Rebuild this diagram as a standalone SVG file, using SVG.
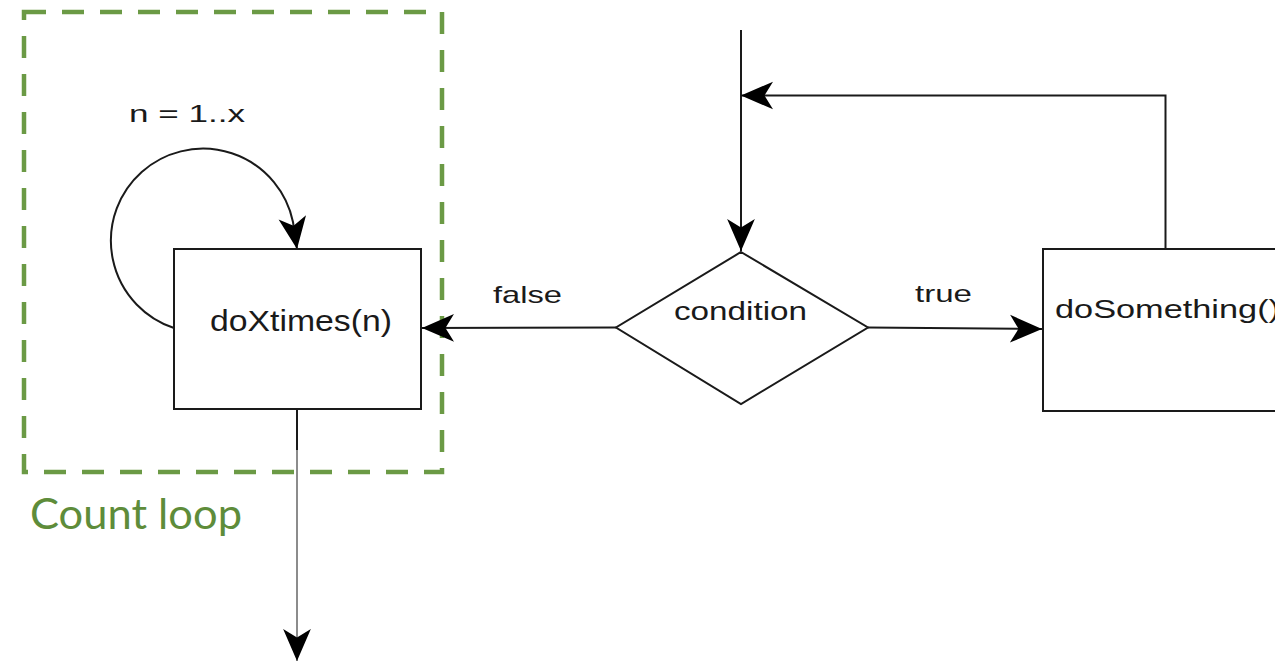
<svg xmlns="http://www.w3.org/2000/svg" width="1275" height="663" viewBox="0 0 1275 663">
  <style>
    .box { fill: #ffffff; stroke: #1a1a1a; stroke-width: 2; }
    .lbl { font-family: "Liberation Sans", Arial, sans-serif; fill: #1a1a1a; }
    .wire { fill: none; stroke: #1a1a1a; stroke-width: 2; }
    .group { fill: none; stroke: #6b9a45; stroke-width: 4.5; stroke-dasharray: 22 16; }
    .caption { font-family: Lato, "Open Sans", sans-serif; fill: #5e8c3a; }
  </style>
  <defs>
    <marker id="arrow" markerUnits="userSpaceOnUse" markerWidth="32" markerHeight="32"
            viewBox="0 0 30 28" refX="30" refY="14" orient="auto" overflow="visible">
      <path d="M0,1 L30,14 L0,27 L8,14 Z" fill="#000000"/>
    </marker>
  </defs>

  <rect width="1275" height="663" fill="#ffffff"/>

  <!-- count loop grouping frame -->
  <g id="count-loop">
    <rect class="group" x="24" y="12" width="418" height="460"/>
    <text class="caption" x="30" y="529" font-size="42" textLength="212" lengthAdjust="spacingAndGlyphs">Count loop</text>
  </g>

  <!-- connectors -->
  <g id="connectors">
    <!-- entry into the condition -->
    <line class="wire" x1="741" y1="30" x2="741" y2="251" marker-end="url(#arrow)"/>
    <!-- loop back from doSomething() -->
    <polyline class="wire" points="1165.5,249 1165.5,95.5 741,95.5" marker-end="url(#arrow)"/>
    <!-- true branch -->
    <line class="wire" x1="868" y1="327.5" x2="1042" y2="329" marker-end="url(#arrow)"/>
    <!-- false branch -->
    <line class="wire" x1="616" y1="327.5" x2="422" y2="328" marker-end="url(#arrow)"/>
    <!-- repetition loop on doXtimes(n) -->
    <path class="wire" d="M174,328 A92,92 0 1 1 293,222 L297,249" marker-end="url(#arrow)"/>
    <!-- exit -->
    <line class="wire" x1="297" y1="409" x2="297" y2="450"/>
    <line x1="297" y1="450" x2="297" y2="661" stroke="#8c8c8c" stroke-width="2" marker-end="url(#arrow)"/>
    <!-- edge labels -->
    <text class="lbl" x="493" y="303" font-size="24" textLength="69" lengthAdjust="spacingAndGlyphs">false</text>
    <text class="lbl" x="915" y="302" font-size="24" textLength="57" lengthAdjust="spacingAndGlyphs">true</text>
    <text class="lbl" x="129" y="122" font-size="24" textLength="116" lengthAdjust="spacingAndGlyphs">n = 1..x</text>
  </g>

  <g id="doXtimes">
    <rect class="box" x="174" y="249" width="247" height="160"/>
    <text class="lbl" x="210" y="331" font-size="30" textLength="182" lengthAdjust="spacingAndGlyphs">doXtimes(n)</text>
  </g>

  <g id="condition">
    <polygon class="box" points="741,252 868,327.5 741,404 616,327.5"/>
    <text class="lbl" x="674" y="320" font-size="25" textLength="133" lengthAdjust="spacingAndGlyphs">condition</text>
  </g>

  <g id="doSomething">
    <rect class="box" x="1043" y="249" width="246" height="162"/>
    <text class="lbl" x="1055" y="318" font-size="25" textLength="225" lengthAdjust="spacingAndGlyphs">doSomething()</text>
  </g>
</svg>
